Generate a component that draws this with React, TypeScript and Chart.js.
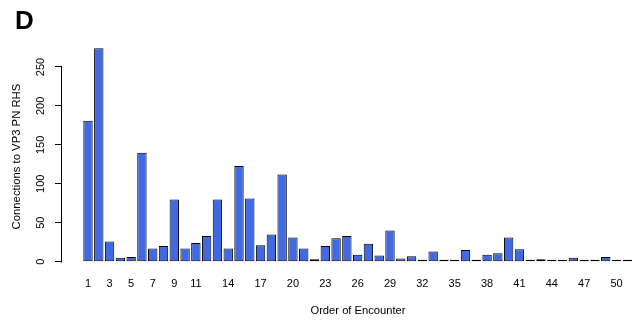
import React, { useEffect, useRef } from 'react';
import { Chart, registerables } from 'chart.js';

Chart.register(...registerables);

// ---- data ----
const encounterOrder = [
  1, 2, 3, 4, 5, 6, 7, 8, 9, 10, 11, 12, 13, 14, 15, 16, 17, 18, 19, 20,
  21, 22, 23, 24, 25, 26, 27, 28, 29, 30, 31, 32, 33, 34, 35, 36, 37, 38, 39, 40,
  41, 42, 43, 44, 45, 46, 47, 48, 49, 50, 51,
];
const connections = [
  181, 274, 26, 5, 6, 140, 17, 20, 80, 17, 24, 33, 80, 17, 123, 81, 21, 35, 112, 31,
  17, 3, 20, 30, 33, 9, 23, 8, 40, 4, 7, 1, 13, 2, 2, 15, 2, 9, 11, 31,
  16, 1, 3, 1, 1, 5, 1, 1, 6, 1, 1,
];
const xTickLabels = [1, 3, 5, 7, 9, 11, 14, 17, 20, 23, 26, 29, 32, 35, 38, 41, 44, 47, 50];
const yTickValues = [0, 50, 100, 150, 200, 250];
const panelLabel = 'D';
const xTitle = 'Order of Encounter';
const yTitle = 'Connections to VP3 PN RHS';

const FONT = "'Liberation Sans', Arial, Helvetica, sans-serif";

const rStylePlugin = {
  id: 'rStyleAxisAndPanel',
  afterDraw(chart: any) {
    const { ctx, chartArea, scales } = chart;
    const y = scales.y;
    const x0 = Math.round(chartArea.left) - 0.5;
    const yStart = y.getPixelForValue(yTickValues[0]);
    const yEnd = y.getPixelForValue(yTickValues[yTickValues.length - 1]);
    ctx.save();
    ctx.strokeStyle = '#000';
    ctx.lineWidth = 1;
    ctx.beginPath();
    ctx.moveTo(x0, Math.round(yStart) + 0.5);
    ctx.lineTo(x0, Math.round(yEnd) - 0.5);
    ctx.stroke();
    ctx.fillStyle = '#000';
    ctx.font = `bold 26px ${FONT}`;
    ctx.textBaseline = 'alphabetic';
    ctx.textAlign = 'left';
    ctx.fillText(panelLabel, 15, 28.5);
    ctx.restore();
  },
};

export default function App() {
  const ref = useRef<HTMLCanvasElement>(null);
  useEffect(() => {
    Chart.defaults.font.family = FONT;
    const chart = new Chart(ref.current as HTMLCanvasElement, {
      type: 'bar',
      data: {
        datasets: [
          {
            data: encounterOrder.map((k, i) => ({ x: k, y: connections[i] })),
            backgroundColor: '#4169E1',
            borderColor: '#000',
            borderWidth: 1,
            borderSkipped: false,
            barPercentage: 0.87,
            categoryPercentage: 1,
            minBarLength: 2,
            clip: false,
          } as any,
        ],
      },
      options: {
        animation: false,
        responsive: false,
        devicePixelRatio: 1,
        layout: { padding: { top: 51.4, right: 0, bottom: 0, left: 0 } },
        plugins: {
          legend: { display: false },
          tooltip: { enabled: false },
          title: { display: false },
        },
        scales: {
          x: {
            type: 'linear',
            offset: false,
            min: -1.4105,
            max: 53.476,
            grid: { display: false, drawTicks: false, offset: false },
            border: { display: false },
            afterBuildTicks: (s: any) => {
              s.ticks = xTickLabels.map((v) => ({ value: v }));
            },
            afterFit: (s: any) => {
              s.height = 60.3;
            },
            ticks: {
              autoSkip: false,
              minRotation: 0,
              maxRotation: 0,
              padding: 15.4,
              color: '#000',
              font: { size: 11 },
              callback: (v: any) => String(v),
            },
            title: {
              display: true,
              text: xTitle,
              color: '#000',
              font: { size: 11.2 },
              padding: { top: 0, bottom: 3.9 },
            },
          },
          y: {
            type: 'linear',
            min: 0,
            max: 270,
            afterBuildTicks: (s: any) => {
              s.ticks = yTickValues.map((v) => ({ value: v }));
            },
            afterFit: (s: any) => {
              s.width = 62;
            },
            grid: {
              display: true,
              drawOnChartArea: false,
              drawTicks: true,
              tickLength: 7,
              color: '#000',
              lineWidth: 1,
            },
            border: { display: false },
            ticks: {
              minRotation: 90,
              maxRotation: 90,
              crossAlign: 'center',
              padding: 4.6,
              color: '#000',
              font: { size: 11 },
            },
            title: {
              display: true,
              text: yTitle,
              color: '#000',
              font: { size: 11.3 },
              padding: { top: 10.2, bottom: 0 },
            },
          },
        },
      } as any,
      plugins: [rStylePlugin],
    });
    return () => chart.destroy();
  }, []);
  return (
    <div
      style={{
        position: 'absolute',
        left: 0,
        top: 0,
        width: 636,
        height: 322,
        overflow: 'hidden',
        background: '#fff',
      }}
    >
      <canvas ref={ref} width={654} height={322} style={{ display: 'block' }} />
    </div>
  );
}
